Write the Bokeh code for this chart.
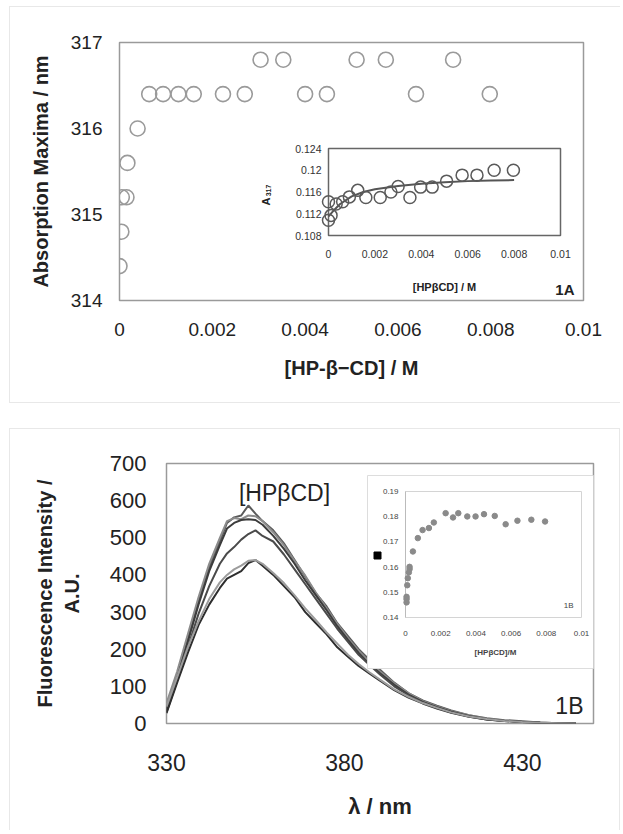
import math
from bokeh.plotting import figure
from bokeh.models import Range1d, FixedTicker, ColumnDataSource
from bokeh.embed import file_html
from bokeh.resources import INLINE
from bokeh.core.properties import value

FONT = "Liberation Sans"

# ---------------- DATA: panel 1A ----------------
conc_1a = [0.0, 0.00004, 0.00005, 0.00015, 0.00017, 0.00039, 0.00064, 0.00094,
           0.00127, 0.0016, 0.00223, 0.0027, 0.00304, 0.00353, 0.004, 0.00447,
           0.00511, 0.00574, 0.00639, 0.00719, 0.00798]
absmax_1a = [314.4, 314.8, 315.2, 315.2, 315.6, 316.0, 316.4, 316.4,
             316.4, 316.4, 316.4, 316.4, 316.8, 316.8, 316.4, 316.4,
             316.8, 316.8, 316.4, 316.8, 316.4]
xticks_1a = [0.0, 0.002, 0.004, 0.006, 0.008, 0.01]
xlabels_1a = ["0", "0.002", "0.004", "0.006", "0.008", "0.01"]
yticks_1a = [314, 315, 316, 317]

# inset of 1A: A317 vs [HPbCD]
conc_1a_in = [0.0, 0.00011, 0.0, 0.00033, 0.00061, 0.0009, 0.00126, 0.00161,
              0.00223, 0.00269, 0.003, 0.00351, 0.00397, 0.00447, 0.00509,
              0.00576, 0.0064, 0.00714, 0.00797]
a317_1a_in = [0.1108, 0.1117, 0.1142, 0.1138, 0.1142, 0.1151, 0.1163, 0.1150,
              0.1150, 0.1160, 0.1170, 0.1150, 0.1169, 0.1169, 0.1180,
              0.1191, 0.1191, 0.1200, 0.1200]
fit_x_1a_in = [0.0, 0.0002, 0.0005, 0.001, 0.0015, 0.002, 0.003, 0.004, 0.005, 0.006, 0.007, 0.008]
fit_y_1a_in = [0.1115, 0.1125, 0.1138, 0.1152, 0.1160, 0.1165, 0.1171, 0.1175, 0.1178, 0.1180, 0.1181, 0.1182]
xticks_1a_in = [0.0, 0.002, 0.004, 0.006, 0.008, 0.01]
xlabels_1a_in = ["0", "0.002", "0.004", "0.006", "0.008", "0.01"]
yticks_1a_in = [0.108, 0.112, 0.116, 0.12, 0.124]
ylabels_1a_in = ["0.108", "0.112", "0.116", "0.12", "0.124"]

# ---------------- DATA: panel 1B ----------------
wl = [330, 333, 336, 339, 342, 345, 347, 349, 351, 353, 355, 357, 360, 363, 366, 369,
      372, 375, 378, 381, 384, 387, 390, 394, 398, 402, 406, 410, 415, 420, 425, 430,
      435, 440, 445]
fl_1 = [40, 130, 230, 330, 420, 490, 540, 555, 560, 587, 565, 545, 520, 485, 440, 395,
        350, 315, 270, 235, 200, 172, 145, 110, 82, 62, 48, 35, 22, 14, 9, 6, 3, 1, 0]
fl_2 = [55, 140, 240, 340, 430, 500, 545, 553, 550, 560, 558, 545, 515, 480, 438, 398,
        352, 310, 268, 230, 196, 166, 140, 108, 82, 60, 46, 33, 22, 13, 8, 5, 3, 1, 0]
fl_3 = [35, 120, 220, 320, 410, 480, 525, 540, 548, 550, 548, 535, 505, 470, 430, 385,
        345, 305, 262, 225, 190, 160, 135, 104, 78, 58, 44, 32, 20, 12, 7, 4, 2, 1, 0]
fl_4 = [30, 115, 205, 295, 370, 430, 458, 475, 495, 510, 520, 505, 490, 455, 415, 375,
        335, 295, 255, 220, 185, 158, 132, 100, 76, 57, 42, 30, 19, 11, 7, 4, 2, 1, 0]
fl_5 = [28, 110, 190, 265, 320, 365, 390, 400, 410, 432, 440, 425, 400, 370, 340, 300,
        270, 240, 205, 180, 155, 135, 115, 90, 70, 54, 40, 29, 18, 11, 7, 4, 2, 1, 0]
fl_6 = [45, 125, 205, 275, 335, 380, 400, 415, 425, 438, 440, 430, 405, 378, 345, 310,
        278, 245, 215, 185, 160, 138, 118, 92, 72, 55, 42, 30, 19, 12, 7, 4, 2, 1, 0]
spectra = [fl_1, fl_2, fl_3, fl_4, fl_5, fl_6]
spectra_colors = ["#5a5a5a", "#8c8c8c", "#3c3c3c", "#4a4a4a", "#2e2e2e", "#9c9c9c"]
xticks_1b = [330, 380, 430]
yticks_1b = [0, 100, 200, 300, 400, 500, 600, 700]

# inset of 1B
conc_1b_in = [0.00006, 0.00006, 0.00006, 0.0001, 0.00013, 0.00019, 0.00023, 0.00023,
              0.00042, 0.0007, 0.00097, 0.00133, 0.00161, 0.00228, 0.0027, 0.003,
              0.00351, 0.00398, 0.00446, 0.00507, 0.00569, 0.00636, 0.00715, 0.00793]
val_1b_in = [0.1460, 0.1473, 0.1482, 0.1528, 0.1556, 0.1579, 0.1592, 0.1601,
             0.1662, 0.1715, 0.1747, 0.1755, 0.1777, 0.1814, 0.1797, 0.1814,
             0.1801, 0.1801, 0.1810, 0.1803, 0.1770, 0.1784, 0.1788, 0.1781]
xticks_1b_in = [0.0, 0.002, 0.004, 0.006, 0.008, 0.01]
xlabels_1b_in = ["0", "0.002", "0.004", "0.006", "0.008", "0.01"]
yticks_1b_in = [0.14, 0.15, 0.16, 0.17, 0.18, 0.19]
ylabels_1b_in = ["0.14", "0.15", "0.16", "0.17", "0.18", "0.19"]


def lin(px, p0, p1, v0, v1):
    return v0 + (px - p0) * (v1 - v0) / (p1 - p0)


def css_lines(lines, color="#e8e8e8"):
    # lines: (left, top, width, height) in px -> CSS background layers
    layers = ["linear-gradient({c},{c}) {l}px {t}px / {w}px {h}px no-repeat".format(
        c=color, l=l, t=t, w=w, h=h) for (l, t, w, h) in lines]
    return ", ".join(layers)


def style_main(p):
    p.background_fill_color = "white"
    p.border_fill_color = None
    p.outline_line_color = "#9a9a9a"
    p.outline_line_width = 1.5
    p.xgrid.visible = False
    p.ygrid.visible = False
    for ax in (p.xaxis[0], p.yaxis[0]):
        ax.axis_line_color = None
        ax.major_tick_line_color = None
        ax.minor_tick_line_color = None
        ax.major_tick_out = 0
        ax.major_tick_in = 0
        ax.major_label_text_font = FONT
        ax.major_label_text_color = "#222222"
        ax.axis_label_text_font = FONT
        ax.axis_label_text_font_style = "bold"
        ax.axis_label_text_color = "#222222"


# page layout (page px; the page itself has no margin)
W = 620
H1 = 414
H2 = 416

# ================= PANEL 1A =================
FL, FR, FT, FB = 119, 583, 42, 300  # frame in page px

p1 = figure(width=W, height=H1, output_backend="svg", toolbar_location=None,
            x_range=Range1d(0, 0.01), y_range=Range1d(314, 317),
            min_border_left=FL, min_border_right=W - FR,
            min_border_top=FT, min_border_bottom=H1 - FB)
style_main(p1)
p1.styles = {"background": css_lines([(9, 6, W - 9, 1), (9, 6, 1, 396), (9, 402, W - 9, 1)]),
             "background-color": "white"}
p1.xaxis.ticker = FixedTicker(ticks=xticks_1a)
p1.xaxis.major_label_overrides = {t: l for t, l in zip(xticks_1a, xlabels_1a)}
p1.yaxis.ticker = FixedTicker(ticks=yticks_1a)
p1.xaxis.major_label_text_font_size = "19px"
p1.yaxis.major_label_text_font_size = "19px"
p1.xaxis.major_label_standoff = 22
p1.yaxis.major_label_standoff = 17
p1.xaxis.axis_label = "[HP-\u03b2\u2212CD] / M"
p1.yaxis.axis_label = "Absorption Maxima / nm"
p1.xaxis.axis_label_text_font_size = "20px"
p1.yaxis.axis_label_text_font_size = "20px"
p1.xaxis.axis_label_standoff = 18
p1.yaxis.axis_label_standoff = 16

p1.scatter(conc_1a, absmax_1a, marker="circle", size=15, fill_color=None,
           line_color="#9a9a9a", line_width=1.6)

# inset 1A drawn through extra ranges
IL, IR, IT, IB = 328, 560, 148, 235
ix0, ix1 = 0.0, 0.01
iy0, iy1 = 0.108, 0.124
p1.extra_x_ranges = {"inx": Range1d(lin(FL, IL, IR, ix0, ix1), lin(FR, IL, IR, ix0, ix1))}
p1.extra_y_ranges = {"iny": Range1d(lin(FB, IB, IT, iy0, iy1), lin(FT, IB, IT, iy0, iy1))}
kw1 = dict(x_range_name="inx", y_range_name="iny")
p1.quad(left=[ix0], right=[ix1], bottom=[iy0], top=[iy1], fill_color="white",
        line_color="#666666", line_width=1.5, **kw1)
p1.line(fit_x_1a_in, fit_y_1a_in, line_color="#555555", line_width=2, **kw1)
p1.scatter(conc_1a_in, a317_1a_in, marker="circle", size=12, fill_color=None,
           line_color="#5a5a5a", line_width=1.5, **kw1)
src = ColumnDataSource(dict(x=xticks_1a_in, y=[iy0] * len(xticks_1a_in), t=xlabels_1a_in))
p1.text("x", "y", text="t", source=src, text_font=value(FONT), text_font_size="10.5px",
        text_color="#333333", text_align="center", text_baseline="middle", y_offset=18, **kw1)
src = ColumnDataSource(dict(x=[ix0] * len(yticks_1a_in), y=yticks_1a_in, t=ylabels_1a_in))
p1.text("x", "y", text="t", source=src, text_font=value(FONT), text_font_size="10.5px",
        text_color="#333333", text_align="right", text_baseline="middle", x_offset=-7, **kw1)
p1.text(x=[(ix0 + ix1) / 2], y=[iy0], text=["[HP\u03b2CD] / M"], text_font=value(FONT),
        text_font_size="11px", text_font_style="bold", text_color="#222222",
        text_align="center", text_baseline="middle", y_offset=51, **kw1)
# y label "A 317" (rotated)
p1.text(x=[lin(265, IL, IR, ix0, ix1)], y=[lin(201, IB, IT, iy0, iy1)], text=["A"],
        text_font=value(FONT), text_font_size="11px", text_font_style="bold",
        text_color="#222222", angle=math.pi / 2, text_align="center",
        text_baseline="middle", **kw1)
p1.text(x=[lin(268, IL, IR, ix0, ix1)], y=[lin(190, IB, IT, iy0, iy1)], text=["317"],
        text_font=value(FONT), text_font_size="7px", text_font_style="bold",
        text_color="#222222", angle=math.pi / 2, text_align="center",
        text_baseline="middle", **kw1)
# panel tag
p1.text(x=[lin(574, FL, FR, 0, 0.01)], y=[lin(297, FB, FT, 314, 317)], text=["1A"],
        text_font=value(FONT), text_font_size="15px", text_font_style="bold",
        text_color="#222222", text_align="right", text_baseline="bottom")

# ================= PANEL 1B =================
TOP2 = H1
GL, GR, GT, GB = 166, 593, 463, 723
p2 = figure(width=W, height=H2, output_backend="svg", toolbar_location=None,
            x_range=Range1d(330, 450), y_range=Range1d(0, 700),
            min_border_left=GL, min_border_right=W - GR,
            min_border_top=GT - TOP2, min_border_bottom=TOP2 + H2 - GB)
style_main(p2)
p2.styles = {"background": css_lines([(9, 14, W - 9 - 1, 1), (9, 14, 1, H2 - 14),
                                      (W - 1, 14, 1, H2 - 14)]),
             "background-color": "white"}
p2.xaxis.ticker = FixedTicker(ticks=xticks_1b)
p2.yaxis.ticker = FixedTicker(ticks=yticks_1b)
p2.xaxis.major_label_text_font_size = "23px"
p2.yaxis.major_label_text_font_size = "22px"
p2.xaxis.major_label_standoff = 30
p2.yaxis.major_label_standoff = 20
p2.xaxis.axis_label = "\u03bb / nm"
p2.yaxis.axis_label = "Fluorescence Intensity /\nA.U."
p2.xaxis.axis_label_text_font_size = "22px"
p2.yaxis.axis_label_text_font_size = "20px"
p2.xaxis.axis_label_standoff = 20
p2.yaxis.axis_label_standoff = 24

for ys, c in zip(spectra, spectra_colors):
    p2.line(wl, ys, line_color=c, line_width=2)

p2.text(x=[lin(284, GL, GR, 330, 450)], y=[lin(492, GB, GT, 0, 700)], text=["[HP\u03b2CD]"],
        text_font=value(FONT), text_font_size="23px", text_color="#222222",
        text_align="center", text_baseline="middle")
p2.text(x=[lin(583, GL, GR, 330, 450)], y=[lin(718, GB, GT, 0, 700)], text=["1B"],
        text_font=value(FONT), text_font_size="23px", text_color="#222222",
        text_align="right", text_baseline="bottom")

# inset 1B
JL, JR, JT, JB = 405, 581, 491, 617
jx0, jx1 = 0.0, 0.01
jy0, jy1 = 0.14, 0.19
p2.extra_x_ranges = {"inx": Range1d(lin(GL, JL, JR, jx0, jx1), lin(GR, JL, JR, jx0, jx1))}
p2.extra_y_ranges = {"iny": Range1d(lin(GB, JB, JT, jy0, jy1), lin(GT, JB, JT, jy0, jy1))}
kw2 = dict(x_range_name="inx", y_range_name="iny")
p2.quad(left=[lin(367, JL, JR, jx0, jx1)], right=[lin(594, JL, JR, jx0, jx1)],
        bottom=[lin(668, JB, JT, jy0, jy1)], top=[lin(475, JB, JT, jy0, jy1)],
        fill_color="white", line_color="#dddddd", line_width=1, **kw2)
p2.quad(left=[jx0], right=[jx1], bottom=[jy0], top=[jy1], fill_color=None,
        line_color="#d4d4d4", line_width=1, **kw2)
p2.segment(x0=[jx0], y0=[jy0], x1=[jx0], y1=[jy1], line_color="#bbbbbb", line_width=1, **kw2)
p2.scatter(conc_1b_in, val_1b_in, marker="circle", size=5.5, fill_color="#8a8a8a",
           line_color="#8a8a8a", **kw2)
src = ColumnDataSource(dict(x=xticks_1b_in, y=[jy0] * len(xticks_1b_in), t=xlabels_1b_in))
p2.text("x", "y", text="t", source=src, text_font=value(FONT), text_font_size="8px",
        text_color="#444444", text_align="center", text_baseline="middle", y_offset=16, **kw2)
src = ColumnDataSource(dict(x=[jx0] * len(yticks_1b_in), y=yticks_1b_in, t=ylabels_1b_in))
p2.text("x", "y", text="t", source=src, text_font=value(FONT), text_font_size="8px",
        text_color="#444444", text_align="right", text_baseline="middle", x_offset=-7, **kw2)
p2.text(x=[lin(495, JL, JR, jx0, jx1)], y=[jy0], text=["[HP\u03b2CD]/M"],
        text_font=value(FONT), text_font_size="8px", text_font_style="bold",
        text_color="#444444", text_align="center", text_baseline="middle", y_offset=35, **kw2)
p2.text(x=[jx1], y=[jy0], text=["1B"], text_font=value(FONT), text_font_size="8px",
        text_color="#444444", text_align="right", text_baseline="middle",
        x_offset=-8, y_offset=-12, **kw2)
# legend key remnant (black square)
p2.scatter(x=[lin(377, JL, JR, jx0, jx1)], y=[lin(555, JB, JT, jy0, jy1)], marker="square",
           size=7, fill_color="black", line_color="black", **kw2)

# two independent roots (no frame alignment between the panels)
open("out.html", "w").write(file_html([p1, p2], INLINE))
